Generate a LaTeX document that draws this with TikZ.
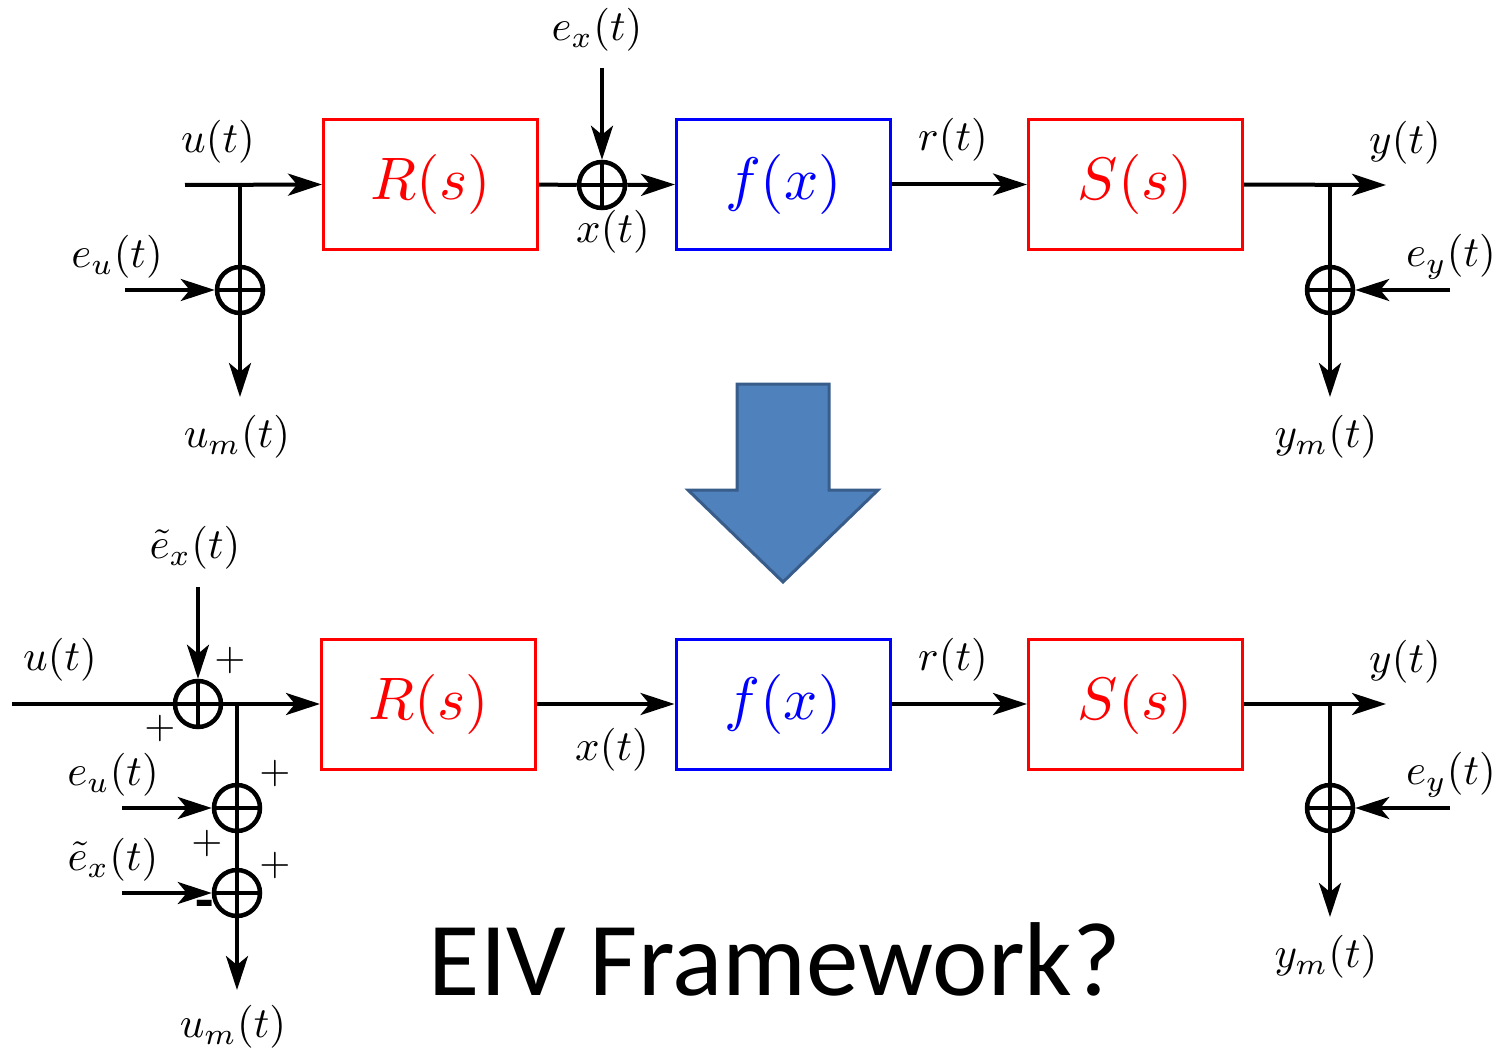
\documentclass[tikz,border=0pt]{standalone}
\usepackage{fontspec}
\newfontfamily\carlito{Carlito}
\usetikzlibrary{arrows.meta}
\definecolor{arrowblue}{RGB}{79,129,189}
\definecolor{arrowborder}{RGB}{56,93,138}
\begin{document}
\begin{tikzpicture}[x=1pt,y=-1pt,
  sig/.style={line width=4pt, -{Stealth[length=34pt,width=22pt,inset=9pt]}},
  wire/.style={line width=4pt},
  blk/.style={draw, line width=3pt, minimum width=214pt, minimum height=130pt, inner sep=0pt},
  sumn/.style={circle, draw, line width=4.5pt, minimum size=46pt, inner sep=0pt,
    path picture={\draw[line width=4pt] (path picture bounding box.north) -- (path picture bounding box.south) (path picture bounding box.west) -- (path picture bounding box.east);}},
  lbl/.style={scale=4.3, inner sep=0pt},
  sgn/.style={scale=4, inner sep=0pt}]
\useasboundingbox (0,0) rectangle (1503,1051);

% ---------- top diagram ----------
\coordinate (u1) at (185,185);
\node[blk, red] (R1) at (430.5,184.5) {\scalebox{6}{$R(s)$}};
\node[sumn] (sx1) at (602,185) {};
\node[blk, blue] (F1) at (783.5,184.5) {\scalebox{6}{$f(x)$}};
\node[blk, red] (S1) at (1135.5,184.5) {\scalebox{6}{$S(s)$}};
\coordinate (bu1) at (240,185);
\node[sumn] (su1) at (240,290) {};
\coordinate (um1) at (240,397);
\coordinate (eu1) at (125,290);
\coordinate (ex1) at (602,68);
\coordinate (y1) at (1386,185);
\coordinate (by1) at (1330,185);
\node[sumn] (sy1) at (1330,290) {};
\coordinate (ym1) at (1330,397);
\coordinate (ey1) at (1450,290);

\draw[sig] (u1) -- (R1.west);
\draw[wire] (bu1) -- (su1.north);
\draw[sig] (su1.south) -- (um1);
\draw[sig] (eu1) -- (su1.west);
\draw[wire] (R1.east) -- (sx1.west);
\draw[sig] (sx1.east) -- (F1.west);
\draw[sig] (ex1) -- (sx1.north);
\draw[sig] (F1.east) -- (S1.west);
\draw[sig] (S1.east) -- (y1);
\draw[wire] (by1) -- (sy1.north);
\draw[sig] (sy1.south) -- (ym1);
\draw[sig] (ey1) -- (sy1.east);

\node[lbl] (lu1) at (218,142) {$u(t)$};
\node[lbl] (leu1) at (117,257) {$e_u(t)$};
\node[lbl] (lum1) at (237,437) {$u_m(t)$};
\node[lbl] (lex1) at (597,30) {$e_x(t)$};
\node[lbl] (lx1) at (613,232) {$x(t)$};
\node[lbl] (lr1) at (953,140) {$r(t)$};
\node[lbl] (ly1) at (1405,143) {$y(t)$};
\node[lbl] (ley1) at (1451,257) {$e_y(t)$};
\node[lbl] (lym1) at (1326,437) {$y_m(t)$};

% ---------- big arrow ----------
\draw[fill=arrowblue, draw=arrowborder, line width=3pt, line join=miter]
  (737,384) -- (829,384) -- (829,490) -- (878,490) -- (783,582) -- (688,490) -- (737,490) -- cycle;

% ---------- bottom diagram ----------
\coordinate (u2) at (12,704);
\node[sumn] (sx2) at (198,704) {};
\coordinate (ex2) at (198,587);
\node[blk, red] (R2) at (428.5,704) {\scalebox{6}{$R(s)$}};
\coordinate (bu2) at (237,704);
\node[sumn] (su2) at (237,808) {};
\node[sumn] (sz2) at (237,893) {};
\coordinate (um2) at (237,990);
\coordinate (eu2) at (122,808);
\coordinate (ez2) at (122,893);
\node[blk, blue] (F2) at (783,704) {\scalebox{6}{$f(x)$}};
\node[blk, red] (S2) at (1135.5,704) {\scalebox{6}{$S(s)$}};
\coordinate (y2) at (1386,704);
\coordinate (by2) at (1330,704);
\node[sumn] (sy2) at (1330,808) {};
\coordinate (ym2) at (1330,917);
\coordinate (ey2) at (1450,808);

\draw[wire] (u2) -- (sx2.west);
\draw[sig] (sx2.east) -- (R2.west);
\draw[sig] (ex2) -- (sx2.north);
\draw[wire] (bu2) -- (su2.north);
\draw[wire] (su2.south) -- (sz2.north);
\draw[sig] (sz2.south) -- (um2);
\draw[sig] (eu2) -- (su2.west);
\draw[sig] (ez2) -- (sz2.west);
\draw[sig] (R2.east) -- (F2.west);
\draw[sig] (F2.east) -- (S2.west);
\draw[sig] (S2.east) -- (y2);
\draw[wire] (by2) -- (sy2.north);
\draw[sig] (sy2.south) -- (ym2);
\draw[sig] (ey2) -- (sy2.east);

\node[lbl] (lex2) at (195,548) {$\tilde{e}_x(t)$};
\node[lbl] (lu2) at (60,660) {$u(t)$};
\node[sgn] (p1) at (230,660) {$+$};
\node[sgn] (p2) at (160,728) {$+$};
\node[lbl] (leu2) at (113,775) {$e_u(t)$};
\node[sgn] (p3) at (275,773) {$+$};
\node[sgn] (p4) at (207,843) {$+$};
\node[lbl] (lez2) at (113,860) {$\tilde{e}_x(t)$};
\node[sgn] (p5) at (275,865) {$+$};
\node[font=\carlito\bfseries\fontsize{60}{60}\selectfont, inner sep=0pt] (m1) at (205,910) {-};
\node[lbl] (lum2) at (233,1027) {$u_m(t)$};
\node[lbl] (lx2) at (612,750) {$x(t)$};
\node[lbl] (lr2) at (953,660) {$r(t)$};
\node[lbl] (ly2) at (1405,662) {$y(t)$};
\node[lbl] (ley2) at (1451,775) {$e_y(t)$};
\node[lbl] (lym2) at (1326,957) {$y_m(t)$};

\node[font=\carlito\fontsize{105}{110}\selectfont, inner sep=0pt, anchor=base] (title) at (775,995) {EIV Framework?};
\end{tikzpicture}
\end{document}
